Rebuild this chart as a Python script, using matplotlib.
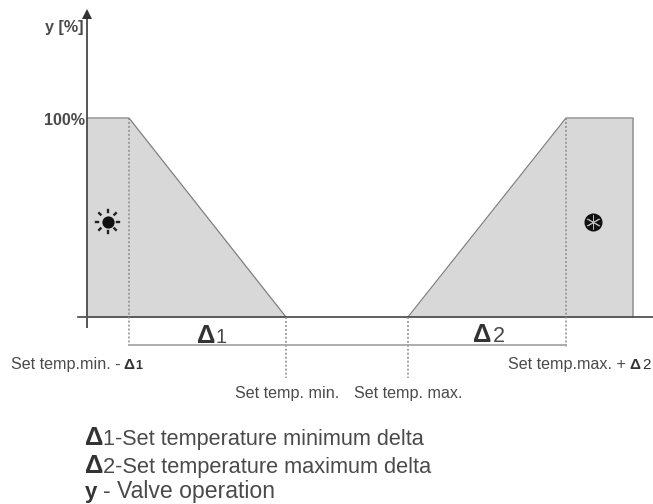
import matplotlib

matplotlib.use("Agg")
import matplotlib.pyplot as plt
import numpy as np

plt.rcParams["font.family"] = ["Liberation Sans", "DejaVu Sans"]

# x in arbitrary temperature units, y is valve opening in percent
heat_x = [0, 42, 199]
heat_y = [100, 100, 0]
cool_x = [321, 479, 546]
cool_y = [0, 100, 100]
set_min_delta = 42
set_min = 199
set_max = 321
set_max_delta = 479

GREY_FILL = "#d8d8d8"
EDGE = "#808080"
AXIS = "#444444"
TEXT = "#4a4a4a"
DARK = "#333333"
DOTS = "#8c8c8c"


def pct(py):
    return (317 - py) / 199 * 100


def main():
    fig = plt.figure(figsize=(6.53, 5.04), dpi=100)
    ax = fig.add_axes([0, 0, 1, 1])
    ax.set_xlim(-87, 566)
    ax.set_ylim(pct(504), pct(0))
    ax.axis("off")

    ax.fill_between(heat_x, heat_y, 0, color=GREY_FILL, lw=0)
    ax.fill_between(cool_x, cool_y, 0, color=GREY_FILL, lw=0)
    ax.plot(heat_x, heat_y, color=EDGE, lw=0.9)
    ax.plot(cool_x + [cool_x[-1]], cool_y + [0], color=EDGE, lw=0.9)

    # axes
    ax.plot([-9, 566], [0, 0], color=AXIS, lw=1.2)
    ax.plot([0, 0], [pct(327), pct(16)], color="#555555", lw=1.4)
    ax.plot([0], [pct(14)], marker="^", ms=7, color="#333333", mew=0)

    # dropped dotted guides
    dots = dict(color=DOTS, lw=1.1, ls=(0, (1.3, 1.3)))
    ax.plot([set_min_delta] * 2, [100, pct(345)], **dots)
    ax.plot([set_min] * 2, [0, pct(378)], **dots)
    ax.plot([set_max] * 2, [0, pct(378)], **dots)
    ax.plot([set_max_delta] * 2, [100, pct(347)], **dots)

    # delta band
    ax.plot([set_min_delta, set_max_delta], [pct(344.5)] * 2, color="#a0a0a0", lw=1.2)

    def label(px, py, s, **kw):
        kw.setdefault("color", TEXT)
        kw.setdefault("fontsize", 11.6)
        kw.setdefault("va", "baseline")
        ax.text(px - 87, pct(py), s, **kw)

    label(45, 32, "y [%]", fontweight="bold")
    label(44, 125, "100%", fontweight="bold")

    label(197, 343, "Δ", fontsize=18.5, fontweight="bold", color=DARK)
    label(215.5, 343, "1", fontsize=14.5)
    label(472.5, 342, "Δ", fontsize=18.5, fontweight="bold", color=DARK)
    label(492.5, 342, "2", fontsize=15.5)

    label(11, 369, "Set temp.min. -")
    label(123, 369, "Δ", fontsize=11, fontweight="bold", color=DARK)
    label(135, 369, "1", fontsize=9, fontweight="bold", color=DARK)
    label(235, 398, "Set temp. min.")
    label(354, 398, "Set temp. max.")
    label(508, 369, "Set temp.max. +")
    label(629.5, 369, "Δ", fontsize=11, fontweight="bold", color=DARK)
    label(642, 369, "2", fontsize=11, color=DARK)

    # sun and snowflake icons
    sun_x, sun_y = 107.5 - 87, pct(221.5)
    ax.plot([sun_x], [sun_y], "o", ms=8.8, color="#111111", mew=0)
    angles = np.deg2rad(np.arange(0, 360, 45))
    for a in angles:
        ax.plot([sun_x + 9.8 * np.cos(a), sun_x + 11.8 * np.cos(a)],
                [sun_y + 9.8 * np.sin(a) / 1.99, sun_y + 11.8 * np.sin(a) / 1.99],
                color="#222222", lw=1.7)

    snow_x, snow_y = 592.7 - 87, pct(221.8)
    ax.plot([snow_x], [snow_y], "o", ms=13, color="#111111", mew=0)
    ax.plot([snow_x], [snow_y], marker=(6, 2, 0), ms=10, color="#bbbbbb", mew=0.7)

    # key
    label(84.5, 445, "Δ", fontsize=18.5, fontweight="bold", color=DARK)
    label(103, 445, "1-Set temperature minimum delta", fontsize=15.6)
    label(84.5, 473, "Δ", fontsize=18.5, fontweight="bold", color=DARK)
    label(103, 473, "2-Set temperature maximum delta", fontsize=15.7)
    label(85, 498, "y", fontsize=16, fontweight="bold", color=DARK)
    label(103, 498, "- Valve operation", fontsize=16.6)

    fig.savefig("out.png", dpi=100)


if __name__ == "__main__":
    main()
